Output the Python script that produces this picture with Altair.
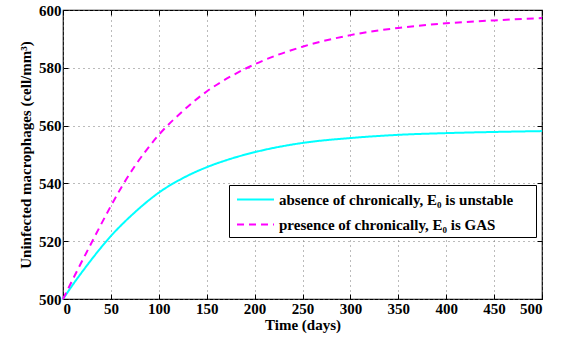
import altair as alt
import pandas as pd

# Time (days)
days = [0, 12.5, 25, 37.5, 50, 62.5, 75, 87.5, 100, 125, 150, 175, 200, 250, 300, 350, 400, 450, 500]
# absence of chronically (cyan, solid)
absence = [500, 506.0, 511.6, 516.9, 521.8, 526.1, 530.0, 533.6, 536.8, 541.8, 545.6, 548.5, 550.8,
           554.0, 555.7, 556.8, 557.4, 557.8, 558.1]
# presence of chronically (magenta, dashed)
presence = [500, 508.3, 516.4, 524.4, 532.2, 539.5, 546.0, 551.7, 556.8, 565.0, 571.8, 577.0, 581.2,
            587.3, 591.3, 593.8, 595.4, 596.4, 597.2]

labels = ["absence of chronically, E\u2080 is unstable",
          "presence of chronically, E\u2080 is GAS"]
x_ticks = list(range(0, 501, 50))
y_ticks = list(range(500, 601, 20))

rows = []
for i, t in enumerate(days):
    rows.append({"t": t, "v": absence[i], "series": labels[0], "o": 0})
    rows.append({"t": t, "v": presence[i], "series": labels[1], "o": 1})
df = pd.DataFrame(rows)

FONT = "Liberation Serif, Times New Roman, Times, serif"

legend_props = dict(
    orient="none", legendX=166, legendY=175, title=None,
    strokeColor="black", fillColor="white",
    padding=4, rowPadding=6,
    symbolType="M-2,0L2,0", symbolSize=342, symbolStrokeWidth=2,
    symbolOffset=12, labelOffset=13,
    labelFont=FONT, labelFontSize=15, labelFontWeight="bold", labelColor="black",
    labelLimit=0, labelExpr="datum.label + '\u00a0\u00a0\u00a0\u00a0\u00a0\u200b'",
)

xs = alt.Scale(domain=[0, 500], nice=False)
ys = alt.Scale(domain=[500, 600], nice=False, zero=False)

main = alt.Chart(df).mark_line(strokeWidth=2, interpolate="monotone").encode(
    x=alt.X("t:Q", scale=xs,
            axis=alt.Axis(values=x_ticks, title="Time (days)", format="d")),
    y=alt.Y("v:Q", scale=ys,
            axis=alt.Axis(values=y_ticks, title="Uninfected macrophages (cell/mm\u00b3)", format="d")),
    color=alt.Color("series:N",
                    scale=alt.Scale(domain=labels, range=["#00FFFF", "#FF00FF"]),
                    legend=alt.Legend(**legend_props)),
    strokeDash=alt.StrokeDash("series:N",
                              scale=alt.Scale(domain=labels, range=[[1, 0], [7, 5]]),
                              legend=alt.Legend(**legend_props)),
    order="o:Q",
)


def tick_axis(vals, orient):
    return alt.Axis(values=vals, orient=orient, offset=-5, ticks=True, tickSize=5,
                    tickColor="black", tickWidth=1, labels=False, grid=False,
                    domain=False, title=None)


ticks_far = alt.Chart(df).mark_line(opacity=0).encode(
    x=alt.X("t:Q", scale=xs, axis=tick_axis(x_ticks, "top")),
    y=alt.Y("v:Q", scale=ys, axis=tick_axis(y_ticks, "right")),
    detail="series:N",
)
ticks_near = alt.Chart(df).mark_line(opacity=0).encode(
    x=alt.X("t:Q", scale=xs, axis=tick_axis(x_ticks, "bottom")),
    y=alt.Y("v:Q", scale=ys, axis=tick_axis(y_ticks, "left")),
    detail="series:N",
)

chart = alt.layer(main, ticks_far, ticks_near).resolve_axis(
    x="independent", y="independent"
).properties(
    width=479, height=289,
    autosize=alt.AutoSizeParams(type="none"),
    padding={"left": 63, "top": 10, "right": 23, "bottom": 42},
).configure_view(
    stroke="black", strokeWidth=1.2
).configure_axis(
    labelFont=FONT, labelFontSize=15, labelFontWeight="bold", labelColor="black",
    titleFont=FONT, titleFontSize=15, titleFontWeight="bold", titleColor="black",
    grid=True, gridColor="#777777", gridDash=[1, 4], gridWidth=1,
    domain=False, ticks=False, tickSize=0, labelPadding=2,
).configure_axisY(
    titlePadding=5,
).configure_axisX(
    titlePadding=1,
)

chart.save("out.html", embed_options={"renderer": "svg", "actions": False})
